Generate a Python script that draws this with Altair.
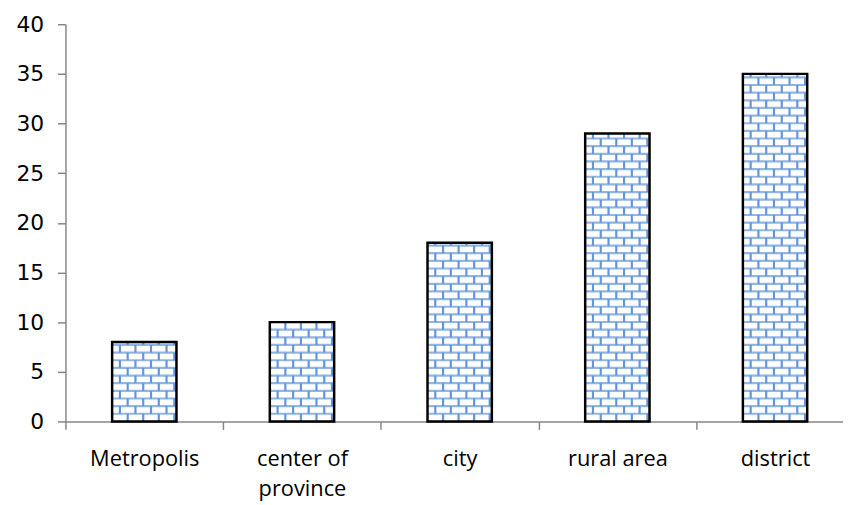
import altair as alt
import pandas as pd

categories = ["Metropolis", "center of province", "city", "rural area", "district"]
values = [8, 10, 18, 29, 35]
y_ticks = [0, 5, 10, 15, 20, 25, 30, 35, 40]

# brick texture geometry (in data units / band fractions)
ROW = 0.77
ROW0 = 0.0
BAR_FRAC = 0.408
BRICK_FRAC = 0.0986
MORTAR = "#6296d8"
AXIS_GRAY = "#868686"

df = pd.DataFrame({"cat": categories, "value": values})

W, H = 796, 401  # category axis runs past the right edge of the picture
ydom = alt.Scale(domain=[0, 40])
xscale = alt.Scale(paddingInner=0, paddingOuter=0)

x_axis = alt.Axis(
    tickBand="extent", labelAngle=0, labelFont="Open Sans", labelFontSize=22,
    labelColor="black", labelPadding=20, labelLineHeight=30, tickSize=8, title=None,
    labelExpr="datum.label == 'center of province' ? ['center of', 'province'] : datum.label",
)
y_axis = alt.Axis(
    values=y_ticks, grid=False, tickSize=8, labelFont="DejaVu Sans", labelFontSize=22,
    labelColor="black", labelPadding=14, title=None,
)


def xenc(**kw):
    return alt.X("cat:N", sort=categories, scale=xscale, axis=x_axis, title=None, **kw)


def yenc(field):
    return alt.Y(field, scale=ydom, axis=y_axis, title=None)


bars_fill = alt.Chart(df).mark_bar(color="white", width=alt.RelativeBandSize(BAR_FRAC)).encode(
    x=xenc(), y=yenc("value:Q"),
)

rows = (
    alt.Chart(df)
    .transform_calculate(r=f"sequence({ROW0}, datum.value, {ROW})")
    .transform_flatten(["r"])
    .transform_calculate(
        idx=f"round((datum.r - ({ROW0})) / {ROW})",
        y0="max(datum.r, 0)",
        y1=f"min(datum.r + {ROW}, datum.value)",
    )
    .transform_calculate(par="datum.idx % 2")
)

hlines = rows.transform_filter("datum.r > 0").mark_tick(
    color=MORTAR, thickness=2.2, size=W / 5 * BAR_FRAC
).encode(x=xenc(), y=yenc("r:Q"))

left = 0.5 - BAR_FRAC / 2
joint_layers = []
for parity, shift in [(0, 0.0), (1, 0.5)]:
    for k in range(5):
        pos = left + BRICK_FRAC * (k + shift)
        if pos <= left + 0.01 or pos >= left + BAR_FRAC - 0.01:
            continue
        joint_layers.append(
            rows.transform_filter(f"datum.par == {parity} && datum.y1 > datum.y0")
            .mark_rule(color=MORTAR, strokeWidth=2.2)
            .encode(x=xenc(bandPosition=pos), y=yenc("y0:Q"), y2="y1:Q")
        )

bars_outline = alt.Chart(df).mark_bar(
    fillOpacity=0, stroke="black", strokeWidth=2.5, width=alt.RelativeBandSize(BAR_FRAC)
).encode(x=xenc(), y=yenc("value:Q"))

chart = (
    alt.layer(bars_fill, hlines, *joint_layers, bars_outline)
    .properties(
        width=W, height=H,
        autosize=alt.AutoSizeParams(type="none"),
        padding={"left": 58, "top": 14, "right": -11, "bottom": 82},
    )
    .configure_view(stroke=None)
    .configure_axis(domainColor=AXIS_GRAY, domainWidth=1.5, tickColor=AXIS_GRAY, tickWidth=1.5)
)

chart.save("out.html", embed_options={"renderer": "svg", "actions": False})
